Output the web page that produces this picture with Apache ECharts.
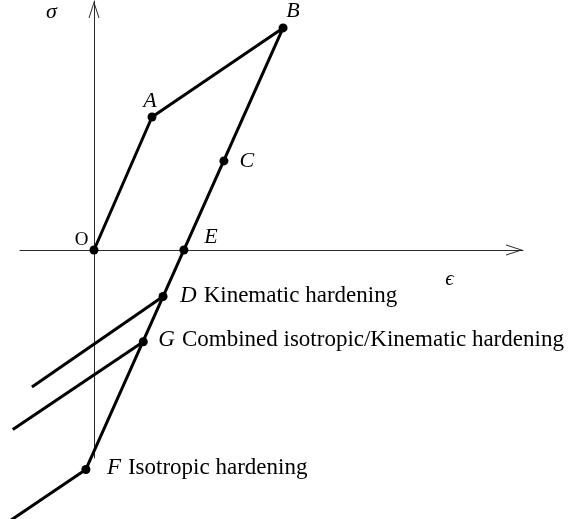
<!DOCTYPE html>
<html>
<head>
<meta charset="utf-8">
<script src="https://cdn.jsdelivr.net/npm/echarts@6/dist/echarts.min.js"></script>
<style>
  html, body { margin: 0; padding: 0; background: #fff; }
  #chart { width: 568px; height: 519px; }
</style>
</head>
<body>
<div id="chart"></div>
<script>
// Loading path O -> A -> B, then elastic unloading/reverse loading B -> F
const pathStrain = [0, 1.0, 3.26, -0.14];
const pathStress = [0, 1.0, 1.67, -1.65];

// Marked states along the path
const pointNames  = ['O', 'A', 'B', 'C', 'E', 'D', 'G', 'F'];
const pointStrain = [0, 1.0, 3.26, 2.24, 1.55, 1.19, 0.85, -0.14];
const pointStress = [0, 1.0, 1.67, 0.67, 0, -0.35, -0.69, -1.65];

// Reverse-yield branches for each hardening model: [start, end]
const branchPoints = ['D', 'G', 'F'];
const branchTitles = ['Kinematic hardening', 'Combined isotropic/Kinematic hardening', 'Isotropic hardening'];
const branchStrain = [[1.19, -1.07], [0.85, -1.40], [-0.14, -1.53]];
const branchStress = [[-0.35, -1.03], [-0.69, -1.35], [-1.65, -2.06]];

// Plot area spans the whole canvas; the drawn axes use a smaller box with the same scale
const plotStrainRange = [-1.62069, 8.17241];
const plotStressRange = [-2.02256, 1.87970];
const axisStrainRange = [-1.27586, 7.39655];
const axisStressRange = [-1.56391, 1.87218];

const SERIF = '"Liberation Serif", "Times New Roman", "DejaVu Serif", serif';
const INK = '#000';

// open arrowhead, tip at top
const openArrow = 'path://M5.5 0 L11 17 L10 17 L5.5 3.1 L1 17 L0 17 Z';

const labelPlacement = {
  O: { offset: [-12.5, -10], upright: true },
  A: { offset: [-2, -15.5] },
  B: { offset: [10, -16.5] },
  C: { offset: [23, 0.5] },
  E: { offset: [27, -12.5] },
  D: { offset: [17, -0.5], align: 'left' },
  G: { offset: [15, -1.5], align: 'left' },
  F: { offset: [21, -1.5], align: 'left' }
};

const pointData = pointNames.map((name, i) => {
  const p = labelPlacement[name];
  const bi = branchPoints.indexOf(name);
  const text = bi >= 0
    ? '{i|' + name + '}{r|' + branchTitles[bi] + '}'
    : (p.upright ? '{u|' + name + '}' : '{l|' + name + '}');
  return {
    value: [pointStrain[i], pointStress[i]],
    label: {
      show: true,
      position: 'inside',
      align: p.align || 'center',
      verticalAlign: 'middle',
      offset: p.offset,
      formatter: text
    }
  };
});

const hiddenAxis = {
  type: 'value',
  show: false,
  splitLine: { show: false }
};

const visibleAxis = {
  type: 'value',
  gridIndex: 1,
  splitLine: { show: false },
  axisTick: { show: false },
  axisLabel: { show: false },
  axisLine: {
    show: true,
    onZero: true,
    symbol: ['none', openArrow],
    symbolSize: [11, 17],
    symbolOffset: [0, -8.5],
    lineStyle: { color: '#2a2a2a', width: 1 }
  }
};

const lineStyle = { color: INK, width: 3 };

const series = [
  {
    type: 'line',
    xAxisIndex: 0, yAxisIndex: 0,
    data: pathStrain.map((x, i) => [x, pathStress[i]]),
    showSymbol: false,
    lineStyle: lineStyle,
    z: 3
  }
];

branchStrain.forEach((xs, k) => {
  series.push({
    type: 'line',
    xAxisIndex: 0, yAxisIndex: 0,
    data: xs.map((x, j) => [x, branchStress[k][j]]),
    showSymbol: false,
    lineStyle: lineStyle,
    z: 3
  });
});

series.push({
  type: 'scatter',
  xAxisIndex: 0, yAxisIndex: 0,
  data: pointData,
  symbol: 'circle',
  symbolSize: 9,
  itemStyle: { color: INK, opacity: 1 },
  label: {
    color: INK,
    fontFamily: SERIF,
    rich: {
      i: { fontFamily: SERIF, fontStyle: 'italic', fontSize: 23, color: INK },
      r: { fontFamily: SERIF, fontStyle: 'normal', fontSize: 23, color: INK, padding: [0, 0, 0, 7] },
      l: { fontFamily: SERIF, fontStyle: 'italic', fontSize: 22, color: INK },
      u: { fontFamily: SERIF, fontStyle: 'normal', fontSize: 19, color: INK }
    }
  },
  z: 5
});

const chart = echarts.init(document.getElementById('chart'), null, { renderer: 'canvas' });
chart.setOption({
  animation: false,
  backgroundColor: '#fff',
  grid: [
    { left: 0, right: 0, top: 0, bottom: 0, containLabel: false },
    { left: 20, right: 45, top: 1, bottom: 61, containLabel: false }
  ],
  xAxis: [
    Object.assign({}, hiddenAxis, { gridIndex: 0, min: plotStrainRange[0], max: plotStrainRange[1] }),
    Object.assign({}, visibleAxis, {
      min: axisStrainRange[0],
      max: axisStrainRange[1],
      name: '{e|ϵ}',
      nameLocation: 'end',
      nameGap: -73.5,
      nameTextStyle: {
        align: 'center', verticalAlign: 'middle',
        rich: { e: { fontFamily: SERIF, fontStyle: 'italic', fontSize: 21, color: INK, padding: [59, 0, 0, 0] } }
      }
    })
  ],
  yAxis: [
    Object.assign({}, hiddenAxis, { gridIndex: 0, min: plotStressRange[0], max: plotStressRange[1] }),
    Object.assign({}, visibleAxis, {
      min: axisStressRange[0],
      max: axisStressRange[1],
      name: 'σ',
      nameLocation: 'end',
      nameGap: -11.5,
      nameTextStyle: {
        fontFamily: SERIF, fontStyle: 'italic', fontSize: 22, color: INK,
        align: 'center', verticalAlign: 'middle', padding: [0, 85, 0, 0]
      }
    })
  ],
  series: series
});
</script>
</body>
</html>
